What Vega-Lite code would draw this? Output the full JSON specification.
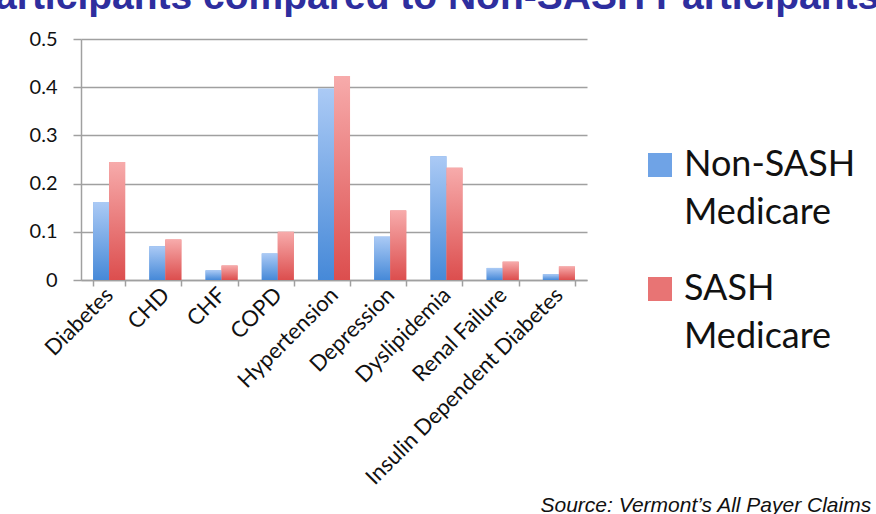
{
  "$schema": "https://vega.github.io/schema/vega-lite/v6.json",
  "width": 506,
  "height": 241,
  "autosize": {"type": "none"},
  "padding": {"left": 81, "top": 39, "right": 289, "bottom": 234},
  "background": "white",
  "title": {
    "text": "Participants compared to Non-SASH Participants",
    "anchor": "start",
    "frame": "group",
    "font": "Liberation Sans",
    "fontSize": 39,
    "fontWeight": "bold",
    "color": "#2e2e9e",
    "baseline": "alphabetic",
    "offset": 0,
    "dx": -112,
    "dy": 19
  },
  "data": {
    "values": [
      {"condition": "Diabetes", "group": "Non-SASH Medicare", "value": 0.162},
      {"condition": "Diabetes", "group": "SASH Medicare", "value": 0.245},
      {"condition": "CHD", "group": "Non-SASH Medicare", "value": 0.070},
      {"condition": "CHD", "group": "SASH Medicare", "value": 0.084},
      {"condition": "CHF", "group": "Non-SASH Medicare", "value": 0.020},
      {"condition": "CHF", "group": "SASH Medicare", "value": 0.030},
      {"condition": "COPD", "group": "Non-SASH Medicare", "value": 0.055},
      {"condition": "COPD", "group": "SASH Medicare", "value": 0.100},
      {"condition": "Hypertension", "group": "Non-SASH Medicare", "value": 0.397},
      {"condition": "Hypertension", "group": "SASH Medicare", "value": 0.423},
      {"condition": "Depression", "group": "Non-SASH Medicare", "value": 0.090},
      {"condition": "Depression", "group": "SASH Medicare", "value": 0.144},
      {"condition": "Dyslipidemia", "group": "Non-SASH Medicare", "value": 0.257},
      {"condition": "Dyslipidemia", "group": "SASH Medicare", "value": 0.233},
      {"condition": "Renal Failure", "group": "Non-SASH Medicare", "value": 0.025},
      {"condition": "Renal Failure", "group": "SASH Medicare", "value": 0.038},
      {"condition": "Insulin Dependent Diabetes", "group": "Non-SASH Medicare", "value": 0.012},
      {"condition": "Insulin Dependent Diabetes", "group": "SASH Medicare", "value": 0.028}
    ]
  },
  "encoding": {
    "x": {
      "field": "condition",
      "type": "nominal",
      "sort": null,
      "scale": {"paddingInner": 0.43, "paddingOuter": 0.215},
      "axis": {
        "title": "Source: Vermont\u2019s All Payer Claims Database",
        "titleFont": "Liberation Sans",
        "titleFontStyle": "italic",
        "titleFontWeight": "normal",
        "titleFontSize": 21,
        "titleColor": "#111111",
        "titleAlign": "left",
        "titleAnchor": "start",
        "titleBaseline": "alphabetic",
        "titleX": 459,
        "titleY": 231,
        "labelAngle": -45,
        "labelAlign": "right",
        "labelBaseline": "middle",
        "labelFont": "Lato",
        "labelFontSize": 22,
        "labelColor": "#111111",
        "labelPadding": 5,
        "labelLimit": 400,
        "tickBand": "extent",
        "tickSize": 6,
        "tickColor": "#a0a0a0",
        "tickWidth": 1.5,
        "domainColor": "#a0a0a0",
        "domainWidth": 1.5,
        "grid": false
      }
    },
    "xOffset": {"field": "group", "type": "nominal", "scale": {"paddingInner": 0, "paddingOuter": 0}},
    "y": {
      "field": "value",
      "type": "quantitative",
      "scale": {"domain": [0, 0.5], "nice": false},
      "axis": {
        "title": null,
        "values": [0, 0.1, 0.2, 0.3, 0.4, 0.5],
        "labelExpr": "datum.value == 0 ? '0' : format(datum.value, '.1f')",
        "labelFont": "Lato",
        "labelFontSize": 20,
        "labelColor": "#111111",
        "labelPadding": 16,
        "tickSize": 8,
        "tickColor": "#a0a0a0",
        "tickWidth": 1.5,
        "domainColor": "#a0a0a0",
        "domainWidth": 1.5,
        "gridColor": "#a0a0a0",
        "gridWidth": 1.5
      }
    }
  },
  "layer": [
    {
      "mark": {"type": "bar"},
      "encoding": {
        "color": {
          "field": "group",
          "type": "nominal",
          "scale": {
            "domain": ["Non-SASH Medicare", "SASH Medicare"],
            "range": ["#6fa3e6", "#e87474"]
          },
          "legend": {
            "title": null,
            "orient": "none",
            "legendX": 561,
            "legendY": 108,
            "symbolType": "square",
            "symbolSize": 576,
            "symbolStrokeWidth": 0,
            "labelFont": "Lato",
            "labelFontSize": 36,
            "labelColor": "#111111",
            "labelOffset": 6,
            "labelExpr": "split(datum.label, ' ')",
            "labelBaseline": "middle",
            "rowPadding": 40,
            "labelLimit": 400
          }
        }
      }
    },
    {
      "mark": {"type": "bar"},
      "encoding": {
        "fill": {
          "condition": {
            "test": "datum.group == 'SASH Medicare'",
            "value": {"gradient": "linear", "x1": 0, "y1": 0, "x2": 0, "y2": 1, "stops": [{"offset": 0, "color": "#f7abab"}, {"offset": 1, "color": "#dc4e4e"}]}
          },
          "value": {"gradient": "linear", "x1": 0, "y1": 0, "x2": 0, "y2": 1, "stops": [{"offset": 0, "color": "#abcaf5"}, {"offset": 1, "color": "#4689d8"}]}
        }
      }
    }
  ],
  "config": {
    "view": {"stroke": null},
    "style": {"guide-label": {"lineHeight": 48}}
  }
}
